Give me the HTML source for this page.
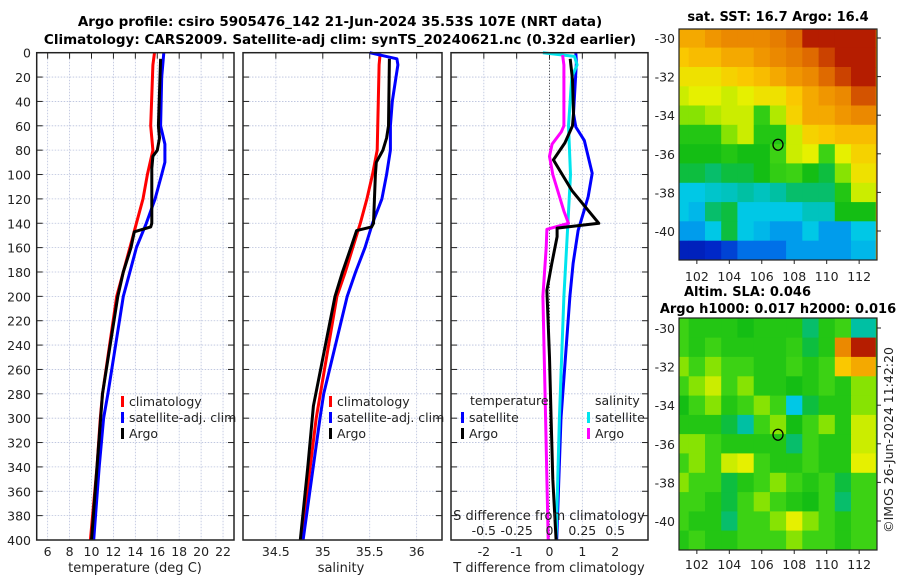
<!DOCTYPE html>
<html><head><meta charset="utf-8"><style>
body{margin:0;background:#fff;}
svg{display:block;font-family:"DejaVu Sans","Liberation Sans",sans-serif;}
</style></head><body>
<svg id="fig" width="900" height="580" viewBox="0 0 900 580">
<text x="340" y="26" text-anchor="middle" font-weight="bold" font-size="13.5">Argo profile: csiro 5905476_142 21-Jun-2024 35.53S 107E (NRT data)</text>
<text x="340" y="44" text-anchor="middle" font-weight="bold" font-size="13.5">Climatology: CARS2009. Satellite-adj clim: synTS_20240621.nc (0.32d earlier)</text>
<g id="g"></g>
</svg>
<script>
// ---- profile data ----
const tClimDepth=[0,10,60,80,100,120,140,160,180,200,280,300,340,400];
const tClimVal=[15.75,15.6,15.4,15.6,15.1,14.7,14.1,13.5,12.9,12.3,11.0,10.8,10.5,9.9];
const tSatDepth=[0,20,60,75,90,100,120,140,160,180,200,280,300,340,400];
const tSatVal=[16.6,16.4,16.3,16.7,16.7,16.4,15.8,15.0,14.1,13.5,12.9,11.5,11.1,10.7,10.2];
const tArgoDepth=[5,60,70,80,85,95,140,143,147,160,180,200,280,340,400];
const tArgoVal=[16.3,16.1,16.2,16.0,15.6,15.5,15.5,15.4,13.9,13.6,12.9,12.4,11.0,10.5,10.0];
const sClimDepth=[2,10,80,100,120,140,160,180,200,300,400];
const sClimVal=[35.61,35.6,35.58,35.53,35.47,35.4,35.32,35.24,35.15,34.93,34.77];
const sSatDepth=[0,5,10,20,40,60,80,90,100,120,140,160,180,200,280,300,400];
const sSatVal=[35.5,35.79,35.8,35.78,35.74,35.72,35.72,35.7,35.68,35.63,35.53,35.45,35.35,35.26,35.01,34.97,34.79];
const sArgoDepth=[5,60,70,80,90,100,140,143,146,160,180,200,290,340,400];
const sArgoVal=[35.71,35.7,35.68,35.64,35.57,35.56,35.54,35.52,35.36,35.3,35.21,35.13,34.9,34.84,34.76];
const dTSatDepth=[0,8,50,61,72,99,118,129,146,173,200,300,400];
const dTSatVal=[0.8,0.82,0.73,0.8,1.06,1.3,1.18,1.06,0.87,0.72,0.62,0.35,0.22];
const dTArgoDepth=[5,22,50,60,74,88,113,140,144,151,173,195,250,300,350,400];
const dTArgoVal=[0.63,0.7,0.73,0.7,0.47,0.12,0.68,1.5,0.23,0.23,0.07,-0.08,0.0,0.05,0.1,0.2];
const dSSatDepth=[0,3,10,20,60,100,140,200,300,400];
const dSSatVal=[-0.05,0.19,0.21,0.17,0.145,0.16,0.14,0.11,0.075,0.05];
const dSArgoDepth=[2,10,60,65,75,85,100,130,140,145,160,200,300,400];
const dSArgoVal=[0.1,0.11,0.11,0.09,0.02,0.0,0.025,0.11,0.145,-0.02,-0.025,-0.05,-0.03,-0.01];
const depthTicks=[0,20,40,60,80,100,120,140,160,180,200,220,240,260,280,300,320,340,360,380,400];
const tTicks=[6,8,10,12,14,16,18,20,22];
const sTicks=[34.5,35,35.5,36];
const dTTicks=[-2,-1,0,1,2];
const dSTicks=[-0.5,-0.25,0,0.25,0.5];
// ---- map data (rows lat -30..-41, cols lon 101..112), colour index 0..1 ----
const sstGrid=[
[0.75,0.75,0.78,0.8,0.8,0.8,0.82,0.85,0.95,0.95,0.95,0.95],
[0.7,0.72,0.72,0.75,0.75,0.78,0.8,0.82,0.85,0.9,0.95,0.95],
[0.65,0.65,0.65,0.68,0.7,0.72,0.75,0.78,0.8,0.85,0.9,0.95],
[0.6,0.62,0.62,0.6,0.62,0.65,0.65,0.7,0.75,0.78,0.8,0.88],
[0.55,0.55,0.58,0.6,0.6,0.48,0.58,0.68,0.75,0.75,0.78,0.8],
[0.45,0.45,0.45,0.55,0.6,0.45,0.45,0.6,0.68,0.7,0.72,0.72],
[0.42,0.42,0.42,0.45,0.42,0.42,0.5,0.6,0.62,0.5,0.62,0.68],
[0.4,0.4,0.38,0.4,0.4,0.42,0.48,0.5,0.42,0.4,0.55,0.65],
[0.3,0.3,0.32,0.33,0.35,0.33,0.35,0.38,0.38,0.38,0.45,0.6],
[0.3,0.28,0.38,0.4,0.3,0.3,0.3,0.3,0.33,0.33,0.42,0.42],
[0.25,0.25,0.3,0.4,0.3,0.28,0.25,0.25,0.3,0.25,0.25,0.3],
[0.1,0.1,0.12,0.15,0.2,0.2,0.2,0.25,0.25,0.25,0.25,0.28]];
const slaGrid=[
[0.5,0.45,0.45,0.45,0.42,0.45,0.45,0.45,0.38,0.45,0.5,0.35],
[0.5,0.45,0.5,0.45,0.45,0.45,0.45,0.48,0.4,0.45,0.8,0.95],
[0.55,0.5,0.55,0.5,0.5,0.45,0.45,0.5,0.45,0.5,0.7,0.75],
[0.5,0.55,0.6,0.5,0.55,0.45,0.45,0.42,0.45,0.5,0.45,0.55],
[0.42,0.5,0.55,0.45,0.5,0.55,0.5,0.3,0.4,0.45,0.45,0.55],
[0.45,0.45,0.45,0.4,0.35,0.5,0.55,0.42,0.5,0.55,0.45,0.6],
[0.55,0.55,0.5,0.45,0.45,0.45,0.45,0.38,0.5,0.45,0.45,0.6],
[0.5,0.55,0.5,0.6,0.62,0.5,0.45,0.45,0.5,0.45,0.45,0.62],
[0.55,0.5,0.5,0.4,0.45,0.5,0.55,0.5,0.45,0.5,0.4,0.5],
[0.5,0.5,0.45,0.4,0.5,0.55,0.5,0.45,0.42,0.5,0.38,0.5],
[0.5,0.45,0.45,0.38,0.5,0.5,0.55,0.62,0.55,0.5,0.45,0.5],
[0.45,0.5,0.45,0.45,0.5,0.5,0.5,0.55,0.5,0.5,0.45,0.5]];
const latTicks=[-30,-32,-34,-36,-38,-40];
const lonTicks=[102,104,106,108,110,112];
const argoLon=107, argoLat=-35.53;

const NS='http://www.w3.org/2000/svg';
const G=document.getElementById('g');
function el(tag,attrs,parent){const e=document.createElementNS(NS,tag);for(const k in attrs)e.setAttribute(k,attrs[k]);(parent||G).appendChild(e);return e;}
function txt(x,y,s,anchor,size,parent){const t=el('text',{x:x,y:y,'text-anchor':anchor||'middle','font-size':size||12.5,fill:'#222'},parent);t.textContent=s;return t;}

const Y0=52.7,Y1=540;
const yD=d=>Y0+(Y1-Y0)*d/400;
function panel(x0,x1,vmin,vmax,name){
  const sx=v=>x0+(x1-x0)*(v-vmin)/(vmax-vmin);
  const g=el('g',{});
  
  
  return {sx,g,x0,x1};
}
function frameGrid(P,xt,fmt){
  depthTicks.forEach(d=>{const l=el('line',{x1:P.x0,x2:P.x1,y1:yD(d),y2:yD(d),stroke:'#b8c0dc','stroke-width':0.8,'stroke-dasharray':'1.5,1.5'},P.g);
    
    el('line',{x1:P.x0,x2:P.x0+6,y1:yD(d),y2:yD(d),stroke:'#222'},P.g);
    el('line',{x1:P.x1-6,x2:P.x1,y1:yD(d),y2:yD(d),stroke:'#222'},P.g);});
  xt.forEach(v=>{const l=el('line',{x1:P.sx(v),x2:P.sx(v),y1:Y0,y2:Y1,stroke:'#b8c0dc','stroke-width':0.8,'stroke-dasharray':'1.5,1.5'},P.g);
    
    el('line',{x1:P.sx(v),x2:P.sx(v),y1:Y0,y2:Y0+6,stroke:'#222'},P.g);
    const t=txt(P.sx(v),556,fmt?fmt(v):String(v),'middle',12.5,P.g);
    });
}
function border(P){const r=el('rect',{x:P.x0,y:Y0,width:P.x1-P.x0,height:Y1-Y0,fill:'none',stroke:'#222','stroke-width':1.5},P.g);
  }
function line(P,ds,vs,color,name,sx,w){
  const f=sx||P.sx;
  const pts=ds.map((d,i)=>f(vs[i]).toFixed(1)+','+yD(d).toFixed(1)).join(' ');
  const p=el('polyline',{points:pts,fill:'none',stroke:color,'stroke-width':w||3,'stroke-linejoin':'round'},P.g);
  
  
}
function legendItem(P,x,y,color,label,name){
  el('rect',{x:x,y:y-10,width:3,height:11,fill:color},P.g);
  const t=txt(x+8,y,label,'start',12.5,P.g);
  
  
}

// Panel 1 temperature
const P1=panel(36.7,234,5,23,'temperature-panel');
frameGrid(P1,tTicks);
depthTicks.forEach(d=>{const t=txt(31,yD(d)+5,String(d),'end',12.5,P1.g);});
line(P1,tClimDepth,tClimVal,'#f00','temp-climatology-line');
line(P1,tSatDepth,tSatVal,'#00f','temp-satellite-line');
line(P1,tArgoDepth,tArgoVal,'#000','temp-argo-line');
border(P1);
const xt1=txt(135,572,'temperature (deg C)','middle',13,P1.g);
legendItem(P1,121,406,'#f00','climatology','legend-climatology');
legendItem(P1,121,422,'#00f','satellite-adj. clim','legend-satellite');
legendItem(P1,121,438,'#000','Argo','legend-argo');

// Panel 2 salinity
const P2=panel(243,442,34.15,36.27,'salinity-panel');
frameGrid(P2,sTicks);
line(P2,sClimDepth,sClimVal,'#f00','sal-climatology-line');
line(P2,sSatDepth,sSatVal,'#00f','sal-satellite-line');
line(P2,sArgoDepth,sArgoVal,'#000','sal-argo-line');
border(P2);
const xt2=txt(341,572,'salinity','middle',13,P2.g);
legendItem(P2,329,406,'#f00','climatology','legend-climatology');
legendItem(P2,329,422,'#00f','satellite-adj. clim','legend-satellite');
legendItem(P2,329,438,'#000','Argo','legend-argo');

// Panel 3 differences
const P3=panel(451,648,-3,3,'difference-panel');
const sxS=v=>P3.sx(v*4);
frameGrid(P3,dTTicks);
el('line',{x1:P3.sx(0),x2:P3.sx(0),y1:Y0,y2:Y1,stroke:'#333','stroke-width':1,'stroke-dasharray':'1,2'},P3.g);
line(P3,dTSatDepth,dTSatVal,'#00f','tdiff-satellite-line');
line(P3,dSSatDepth,dSSatVal,'#00e5ee','sdiff-satellite-line',sxS);
line(P3,dSArgoDepth,dSArgoVal,'#f0f','sdiff-argo-line',sxS);
line(P3,dTArgoDepth,dTArgoVal,'#000','tdiff-argo-line');
border(P3);
const xt3=txt(549,572,'T difference from climatology','middle',13,P3.g);
const st=txt(549,520,'S difference from climatology','middle',13,P3.g);
dSTicks.forEach(v=>{const t=txt(sxS(v),535,String(v),'middle',12.5,P3.g);});
const lt=txt(470,405,'temperature','start',12.5,P3.g);
const ls=txt(595,405,'salinity','start',12.5,P3.g);
legendItem(P3,461,422,'#00f','satellite','legend-t-satellite');
legendItem(P3,461,438,'#000','Argo','legend-t-argo');
legendItem(P3,587,422,'#00e5ee','satellite','legend-s-satellite');
legendItem(P3,587,438,'#f0f','Argo','legend-s-argo');

// ---- maps ----
const cmapStops=[[0,0,0,130],[0.12,0,40,200],[0.22,0,130,240],[0.3,0,200,230],[0.36,0,190,150],[0.42,20,190,20],[0.5,60,210,20],[0.56,150,230,0],[0.62,230,240,0],[0.7,250,200,0],[0.78,240,150,0],[0.86,220,100,0],[0.93,190,40,0],[1,160,0,0]];
function cmap(v){
  v=Math.max(0,Math.min(1,v));
  for(let i=1;i<cmapStops.length;i++){
    const a=cmapStops[i-1],b=cmapStops[i];
    if(v<=b[0]){const t=(v-a[0])/(b[0]-a[0]);
      return 'rgb('+[1,2,3].map(k=>Math.round(a[k]+(b[k]-a[k])*t)).join(',')+')';}
  }
  return 'rgb(160,0,0)';
}
function map(y0,y1,grid,name,latY30,latY40){
  const x0=679,x1=877,lonMin=100.9,lonMax=113.1;
  const sx=l=>x0+(x1-x0)*(l-lonMin)/(lonMax-lonMin);
  const sy=la=>latY30+(latY40-latY30)*(la+30)/(-10);
  const g=el('g',{});
  
  
  const cp='clip-'+name;
  const cd=el('clipPath',{id:cp},g);el('rect',{x:x0,y:y0,width:x1-x0,height:y1-y0},cd);
  const cg=el('g',{'clip-path':'url(#'+cp+')'},g);
  el('rect',{x:x0,y:y0,width:x1-x0,height:y1-y0,fill:cmap(grid[0][0])},cg);
  grid.forEach((row,i)=>row.forEach((v,j)=>{
    const lat=-30-i, lon=101+j;
    const xa=sx(lon-0.5-(j==0?0.5:0)), xb=sx(lon+0.5+(j==row.length-1?0.5:0));
    const ya=sy(lat+0.5+(i==0?0.5:0)), yb=sy(lat-0.5-(i==grid.length-1?0.5:0));
    const r=el('rect',{x:xa.toFixed(1),y:ya.toFixed(1),width:(xb-xa+0.5).toFixed(1),height:(yb-ya+0.5).toFixed(1),fill:cmap(v)},cg);
    
    
  }));
  el('rect',{x:x0,y:y0,width:x1-x0,height:y1-y0,fill:'none',stroke:'#222','stroke-width':1.2},g);
  latTicks.forEach(la=>{el('line',{x1:x1,x2:x1+4,y1:sy(la),y2:sy(la),stroke:'#222'},g);
    const t=txt(675,sy(la)+5,String(la),'end',12.5,g);});
  lonTicks.forEach(lo=>{el('line',{x1:sx(lo),x2:sx(lo),y1:y1,y2:y1+4,stroke:'#222'},g);});
  const c=el('ellipse',{cx:sx(argoLon),cy:sy(argoLat),rx:5,ry:5.5,fill:'none',stroke:'#000','stroke-width':1.3},g);
  
  return {sx,g};
}
const M1=map(29,260,sstGrid,'sst-map',38,231);
lonTicks.forEach(lo=>{const t=txt(M1.sx(lo),281,String(lo),'middle',12.5,M1.g);});
const M2=map(318,550,slaGrid,'sla-map',328,521);
lonTicks.forEach(lo=>{const t=txt(M2.sx(lo),569,String(lo),'middle',12.5,M2.g);});
const mt1=txt(778,21,'sat. SST: 16.7 Argo: 16.4','middle',13,M1.g);mt1.setAttribute('font-weight','bold');mt1.setAttribute('fill','#000');
const mt2=txt(684,296,'Altim. SLA: 0.046','start',13,M2.g);mt2.setAttribute('font-weight','bold');mt2.setAttribute('fill','#000');
const mt3=txt(778,313,'Argo h1000: 0.017 h2000: 0.016','middle',13,M2.g);mt3.setAttribute('font-weight','bold');mt3.setAttribute('fill','#000');
const cr=txt(0,0,'©IMOS 26-Jun-2024 11:42:20','middle',12.5);
cr.setAttribute('transform','translate(893,440) rotate(-90)');


</script>
</body></html>
